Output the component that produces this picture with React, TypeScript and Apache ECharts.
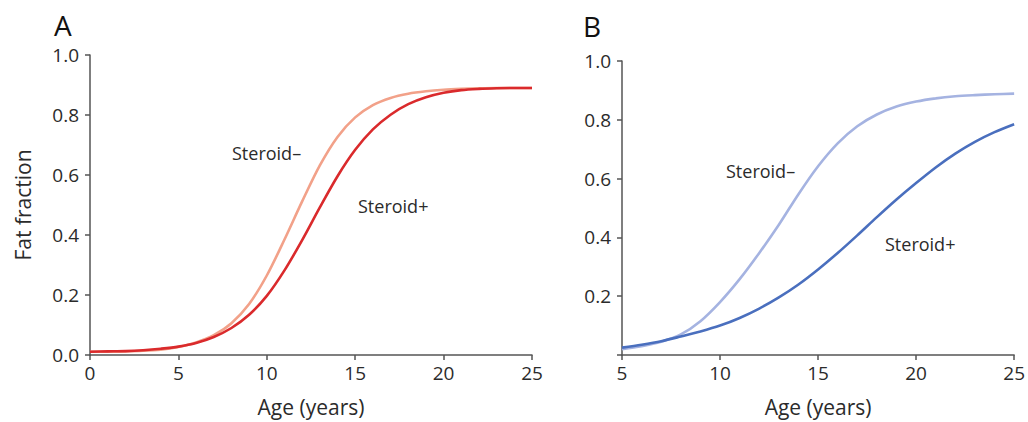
import React, { useEffect, useRef } from "react";
import * as echarts from "echarts";

const agesA = [0, 1, 2, 3, 4, 5, 6, 7, 8, 9, 10, 11, 12, 13, 14, 15, 16, 17, 18, 19, 20, 21, 22, 23, 24, 25];
const steroidNegA = [0.011, 0.011, 0.012, 0.014, 0.018, 0.027, 0.042, 0.066, 0.106, 0.17, 0.265, 0.385, 0.512, 0.632, 0.727, 0.792, 0.833, 0.857, 0.871, 0.879, 0.884, 0.887, 0.889, 0.89, 0.89, 0.89];
const steroidPosA = [0.011, 0.012, 0.013, 0.016, 0.021, 0.028, 0.04, 0.06, 0.09, 0.134, 0.197, 0.282, 0.383, 0.492, 0.596, 0.684, 0.752, 0.801, 0.836, 0.859, 0.874, 0.883, 0.887, 0.889, 0.89, 0.89];

const agesB = [5, 6, 7, 8, 9, 10, 11, 12, 13, 14, 15, 16, 17, 18, 19, 20, 21, 22, 23, 24, 25];
const steroidNegB = [0.02, 0.03, 0.045, 0.07, 0.115, 0.18, 0.258, 0.347, 0.443, 0.547, 0.642, 0.72, 0.778, 0.818, 0.845, 0.862, 0.873, 0.88, 0.884, 0.887, 0.889];
const steroidPosB = [0.025, 0.035, 0.047, 0.063, 0.08, 0.1, 0.126, 0.158, 0.196, 0.24, 0.291, 0.347, 0.407, 0.469, 0.529, 0.585, 0.638, 0.685, 0.725, 0.758, 0.785];

const xTicksA = [0, 25, 5];
const xTicksB = [5, 25, 5];
const yTicks = [0, 1, 0.2];

const FONT = "'Open Sans', 'Noto Sans', sans-serif";
const TXT = "#2b2b2b";
const AXIS = "#555555";

const pairs = (xs: number[], ys: number[]) => xs.map((x, i) => [x, ys[i]]);

export default function App() {
  const ref = useRef<HTMLDivElement>(null);
  useEffect(() => {
    if (!ref.current) return;
    const chart = echarts.init(ref.current, undefined, { renderer: "svg" });
    const axisCommon = {
      axisLine: { show: true, lineStyle: { color: AXIS, width: 1.5 } },
      axisTick: { show: true, inside: false, length: 5, lineStyle: { color: AXIS, width: 1.5 } },
      splitLine: { show: false },
    };
    const xAxis = (idx: number, ticks: number[]) => ({
      type: "value",
      gridIndex: idx,
      min: ticks[0],
      max: ticks[1],
      interval: ticks[2],
      name: "Age (years)",
      nameLocation: "middle",
      nameGap: 41,
      nameTextStyle: { fontFamily: FONT, fontSize: 21, color: TXT },
      axisLabel: { fontFamily: FONT, fontSize: 19, color: TXT, margin: 8 },
      ...axisCommon,
    });
    const yAxis = (idx: number, hideZero: boolean, name: string) => ({
      type: "value",
      gridIndex: idx,
      min: yTicks[0],
      max: yTicks[1],
      interval: yTicks[2],
      name,
      nameLocation: "middle",
      nameGap: 57,
      nameTextStyle: { fontFamily: FONT, fontSize: 21, color: TXT },
      axisLabel: {
        fontFamily: FONT,
        fontSize: 19,
        color: TXT,
        margin: 11,
        formatter: (v: number) => (hideZero && v === 0 ? "" : v.toFixed(1)),
      },
      ...axisCommon,
    });
    const line = (idx: number, data: number[][], color: string) => ({
      type: "line",
      xAxisIndex: idx,
      yAxisIndex: idx,
      data,
      smooth: 0.3,
      showSymbol: false,
      symbol: "none",
      lineStyle: { color, width: 2.6 },
      z: 2,
    });
    const label = (text: string, x: number, y: number) => ({
      type: "text",
      x,
      y,
      style: { text, fontFamily: FONT, fontSize: 18, fill: TXT, textAlign: "left", textVerticalAlign: "middle" },
    });
    chart.setOption({
      animation: false,
      grid: [
        { left: 90, top: 55, width: 442, height: 301 },
        { left: 622, top: 61, width: 394, height: 294 },
      ],
      xAxis: [xAxis(0, xTicksA), xAxis(1, xTicksB)],
      yAxis: [yAxis(0, false, "Fat fraction"), yAxis(1, true, "")],
      series: [
        line(0, pairs(agesA, steroidNegA), "#F2A189"),
        line(0, pairs(agesA, steroidPosA), "#DA2A2C"),
        line(1, pairs(agesB, steroidNegB), "#A5B3E1"),
        line(1, pairs(agesB, steroidPosB), "#4A6FBE"),
      ],
      graphic: [
        { type: "text", x: 54, y: 25, style: { text: "A", fontFamily: FONT, fontSize: 28, fill: "#111", textAlign: "left", textVerticalAlign: "middle" } },
        { type: "text", x: 583, y: 26, style: { text: "B", fontFamily: FONT, fontSize: 28, fill: "#111", textAlign: "left", textVerticalAlign: "middle" } },
        label("Steroid\u2013", 232, 153),
        label("Steroid+", 358, 206),
        label("Steroid\u2013", 726, 171),
        label("Steroid+", 885, 244),
      ],
    });
    return () => chart.dispose();
  }, []);
  return (
    <div
      ref={ref}
      style={{ position: "fixed", left: 0, top: 0, width: 1028, height: 422, background: "#fff" }}
    />
  );
}
